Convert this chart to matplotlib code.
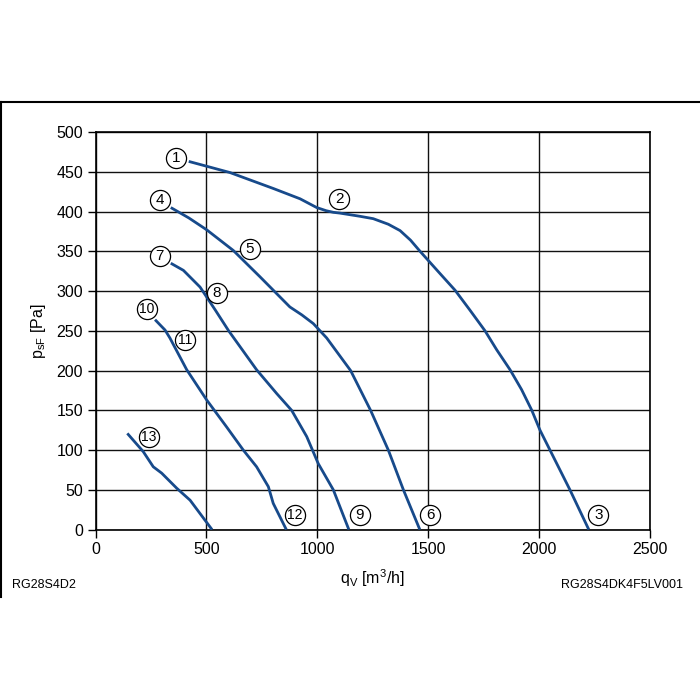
import matplotlib
matplotlib.use("Agg")
import matplotlib.pyplot as plt
from matplotlib.lines import Line2D

plt.rcParams['font.family'] = ['Liberation Sans', 'DejaVu Sans']
plt.rcParams['mathtext.fontset'] = 'custom'
plt.rcParams['mathtext.rm'] = 'Liberation Sans'
plt.rcParams['mathtext.it'] = 'Liberation Sans'

# Kennlinien (q in m3/h, p in Pa)
q_a = [420, 500, 606, 801, 922, 997, 1040, 1072, 1102, 1192, 1252, 1320, 1373, 1420, 1463, 1553,
       1621, 1688, 1756, 1809, 1869, 1921, 1967, 2004, 2049, 2094, 2139, 2224]
p_a = [463, 457, 449, 429, 416, 405, 401, 399, 398, 394, 391, 384, 376, 364, 350, 322,
       301, 276, 250, 226, 201, 176, 150, 125, 100, 75, 50, 0]

q_b = [339, 420, 501, 621, 741, 876, 930, 982, 1042, 1150, 1240, 1320, 1388, 1462]
p_b = [405, 392, 377, 351, 318, 280, 270, 259, 241, 200, 150, 100, 50, 0]

q_c = [339, 396, 471, 540, 600, 726, 817, 884, 952, 1004, 1072, 1142]
p_c = [335, 326, 305, 276, 250, 201, 171, 150, 117, 83, 50, 0]

q_d = [268, 313, 335, 411, 501, 591, 666, 726, 779, 801, 860]
p_d = [264, 251, 241, 201, 163, 129, 100, 79, 54, 33, 0]

q_e = [143, 215, 260, 298, 366, 426, 525]
p_e = [121, 98, 79, 71, 52, 37, 0]

# Nummern der Betriebspunkte
label_text = ['1', '2', '3', '4', '5', '6', '7', '8', '9', '10', '11', '12', '13']
label_q = [362, 1099, 2267, 292, 696, 1508, 290, 546, 1192, 230, 403, 899, 241]
label_p = [467, 416, 18, 415, 353, 18, 344, 298, 18, 278, 239, 18, 117]

x_ticks = [0, 500, 1000, 1500, 2000, 2500]
y_ticks = [0, 50, 100, 150, 200, 250, 300, 350, 400, 450, 500]

line_color = '#174a8b'

fig = plt.figure(figsize=(7, 7), dpi=100)
ax = fig.add_axes([95.6 / 700, 1 - 529.6 / 700, 554.4 / 700, 397.6 / 700])

for q, p in [(q_a, p_a), (q_b, p_b), (q_c, p_c), (q_d, p_d), (q_e, p_e)]:
    ax.plot(q, p, color=line_color, linewidth=2.0, solid_joinstyle='round',
            solid_capstyle='butt', zorder=3)

ax.scatter(label_q, label_p, s=210, facecolor='white', edgecolor='black',
           linewidth=0.9, zorder=4)
for t, q, p in zip(label_text, label_q, label_p):
    ax.text(q, p, t, ha='center', va='center', fontsize=11 if len(t) == 1 else 10,
            zorder=5)

ax.set_xlim(0, 2500)
ax.set_ylim(0, 500)
ax.set_xticks(x_ticks)
ax.set_yticks(y_ticks)
ax.grid(True, color='#111111', linewidth=1.0)
ax.set_axisbelow(True)
for s in ax.spines.values():
    s.set_linewidth(1.2)
    s.set_color('black')
ax.tick_params(direction='out', length=6, width=1, labelsize=11.5, pad=3)

ax.set_xlabel(r'$\mathregular{q_V}$ [m$\mathregular{^3}$/h]', fontsize=11.5, labelpad=7)
ax.set_ylabel(r'$\mathregular{p_{sF}}$ [Pa]', fontsize=11.5, labelpad=6)

fig.text(12 / 700, 1 - 585 / 700, 'RG28S4D2', fontsize=9, va='center', ha='left')
fig.text(683 / 700, 1 - 585 / 700, 'RG28S4DK4F5LV001', fontsize=9, va='center', ha='right')

# Rahmen
fig.add_artist(Line2D([0, 1], [1 - 102 / 700, 1 - 102 / 700], color='black', linewidth=1.5,
                      transform=fig.transFigure))
fig.add_artist(Line2D([0.001, 0.001], [1 - 102 / 700, 1 - 597 / 700], color='black',
                      linewidth=1.5, transform=fig.transFigure))

fig.savefig('out.png', dpi=100)
